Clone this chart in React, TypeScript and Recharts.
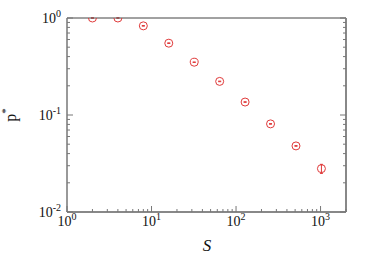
import { ScatterChart, Scatter, XAxis, YAxis, ErrorBar } from 'recharts';

// Sample data
const sizes = [2, 4, 8, 16, 32, 64, 128, 256, 512, 1024];
const pStar = [1.0, 1.0, 0.83, 0.55, 0.35, 0.222, 0.136, 0.081, 0.048, 0.028];
const pErr = [0.002, 0.002, 0.006, 0.004, 0.002, 0.0015, 0.001, 0.0006, 0.0004, 0.003];

const xTicks = [1, 2, 3, 4, 5, 6, 7, 8, 9, 10, 20, 30, 40, 50, 60, 70, 80, 90, 100, 200, 300, 400, 500, 600, 700, 800, 900, 1000, 2000];
const yTicks = [0.01, 0.02, 0.03, 0.04, 0.05, 0.06, 0.07, 0.08, 0.09, 0.1, 0.2, 0.3, 0.4, 0.5, 0.6, 0.7, 0.8, 0.9, 1];

const data = sizes.map((s, i) => ({ s, p: pStar[i], err: pErr[i] }));

const RED = '#e03a3a';
const TICK = '#777';
const FONT = '"Liberation Serif", "DejaVu Serif", serif';

const exponent = (v: number) => Math.round(Math.log10(v));
const isMajor = (v: number) => Math.abs(Math.log10(v) - exponent(v)) < 1e-9;

const Pow = ({ x, y, v, anchor }: { x: number; y: number; v: number; anchor: string }) => (
  <text x={x} y={y} textAnchor={anchor} fontFamily={FONT} fontSize={14} fill="#111">
    10<tspan fontSize={10} dy={-6}>{exponent(v)}</tspan>
  </text>
);

const BottomTick = (props: any) => {
  const { x, y, payload } = props;
  const major = isMajor(payload.value);
  return (
    <g>
      <line x1={x} y1={y} x2={x} y2={y - (major ? 6 : 3)} stroke={TICK} />
      {major && payload.value < 2000 && <Pow x={x} y={y + 14} v={payload.value} anchor="middle" />}
    </g>
  );
};

const TopTick = (props: any) => {
  const { x, y, payload } = props;
  const major = isMajor(payload.value);
  return <line x1={x} y1={y} x2={x} y2={y + (major ? 6 : 3)} stroke={TICK} />;
};

const LeftTick = (props: any) => {
  const { x, y, payload } = props;
  const major = isMajor(payload.value);
  return (
    <g>
      <line x1={x} y1={y} x2={x + (major ? 6 : 3)} y2={y} stroke={TICK} />
      {major && <Pow x={x - 6} y={y + 5} v={payload.value} anchor="end" />}
    </g>
  );
};

const RightTick = (props: any) => {
  const { x, y, payload } = props;
  const major = isMajor(payload.value);
  return <line x1={x} y1={y} x2={x - (major ? 6 : 3)} y2={y} stroke={TICK} />;
};

const XLabel = () => (
  <text x={207} y={251} textAnchor="middle" fontFamily={FONT} fontStyle="italic" fontSize={17} fill="#111">
    S
  </text>
);

const YLabel = () => (
  <text x={16} y={115} transform="rotate(-90, 16, 115)" textAnchor="middle" fontFamily={FONT} fontSize={16} fill="#111">
    p<tspan fontSize={11} dy={-7}>*</tspan>
  </text>
);

const Marker = (props: any) => (
  <circle cx={props.cx} cy={props.cy} r={4} fill="none" stroke={RED} strokeWidth={1} />
);

const App = () => {
  return (
    <div style={{ position: 'absolute', left: 0, top: 0, background: '#fff' }}>
      <ScatterChart width={374} height={262} margin={{ top: 17, right: 27, bottom: 0, left: 0 }}>
        <XAxis
          xAxisId="b"
          dataKey="s"
          type="number"
          scale="log"
          domain={[1, 2000]}
          allowDataOverflow
          ticks={xTicks}
          interval={0}
          tickSize={0}
          tickMargin={0}
          tickLine={false}
          tick={<BottomTick />}
          height={50}
          axisLine={{ stroke: '#888', strokeWidth: 2 }}
          label={<XLabel />}
        />
        <XAxis
          xAxisId="t"
          orientation="top"
          type="number"
          scale="log"
          domain={[1, 2000]}
          allowDataOverflow
          ticks={xTicks}
          interval={0}
          tickSize={0}
          tickMargin={0}
          tickLine={false}
          tick={<TopTick />}
          height={1}
          axisLine={{ stroke: '#444', strokeWidth: 1 }}
        />
        <YAxis
          yAxisId="l"
          dataKey="p"
          type="number"
          scale="log"
          domain={[0.01, 1]}
          allowDataOverflow
          ticks={yTicks}
          interval={0}
          tickSize={0}
          tickMargin={0}
          tickLine={false}
          tick={<LeftTick />}
          width={67}
          axisLine={{ stroke: '#777', strokeWidth: 1.5 }}
          label={<YLabel />}
        />
        <YAxis
          yAxisId="r"
          orientation="right"
          type="number"
          scale="log"
          domain={[0.01, 1]}
          allowDataOverflow
          ticks={yTicks}
          interval={0}
          tickSize={0}
          tickMargin={0}
          tickLine={false}
          tick={<RightTick />}
          width={1}
          axisLine={{ stroke: '#888', strokeWidth: 2 }}
        />
        <Scatter data={data} xAxisId="b" yAxisId="l" shape={<Marker />} isAnimationActive={false}>
          <ErrorBar dataKey="err" direction="y" width={1.5} stroke={RED} strokeWidth={1} isAnimationActive={false} />
        </Scatter>
      </ScatterChart>
    </div>
  );
};

export default App;
